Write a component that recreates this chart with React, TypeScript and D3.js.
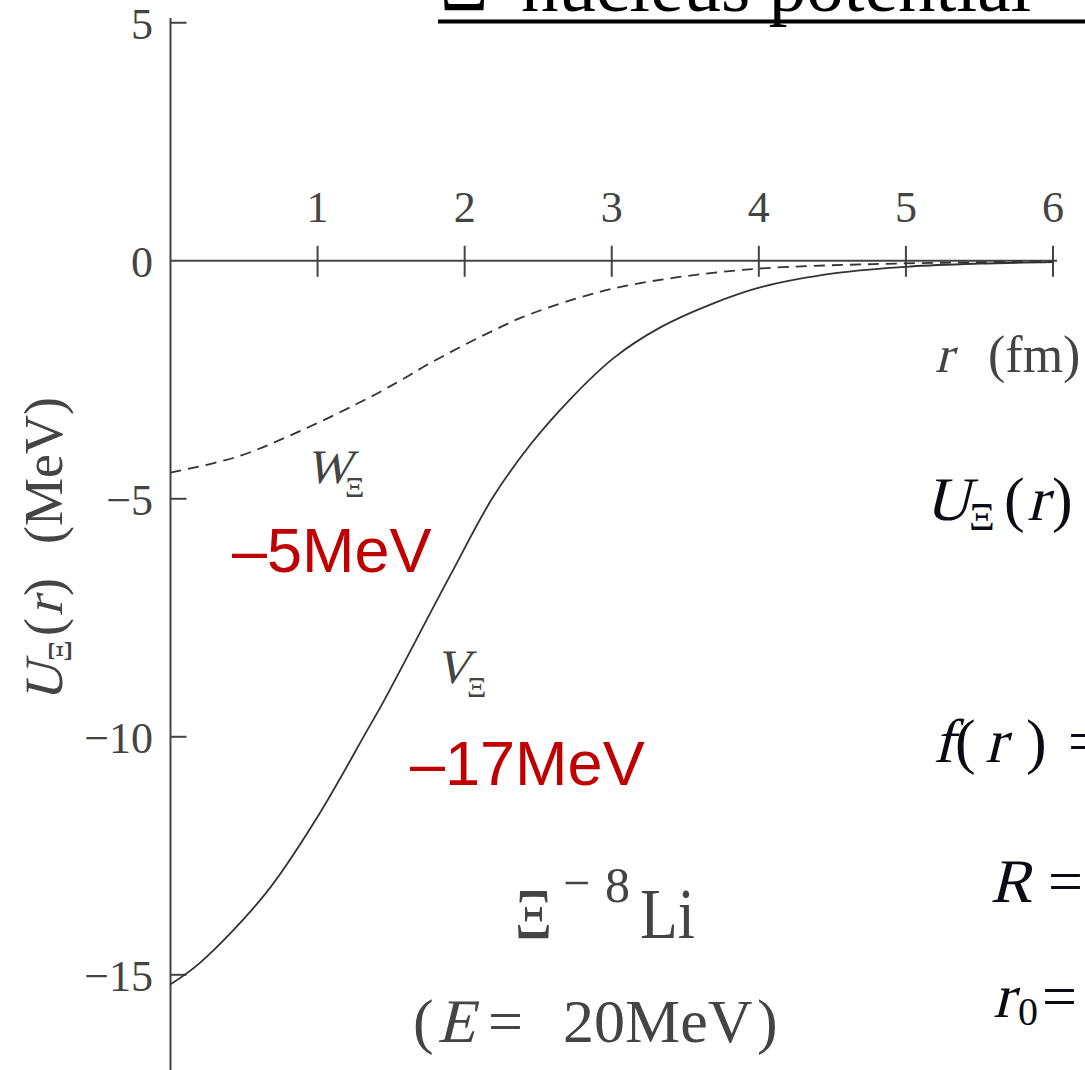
import React from "react";
import * as d3 from "d3";

// Real part V_Ξ(r) of the Ξ⁻–⁸Li optical potential (MeV) versus r (fm)
const rReal = [0, 0.2, 0.65, 1.0, 1.34, 1.45, 1.9, 2.19, 2.45, 2.72, 3.01, 3.33, 3.67, 4.02, 4.52, 5.03, 5.5, 6.0];
const vReal = [-15.2, -14.75, -13.28, -11.68, -9.85, -9.25, -6.62, -4.98, -3.85, -2.9, -2.05, -1.4, -0.92, -0.55, -0.26, -0.12, -0.06, -0.03];

// Imaginary part W_Ξ(r) (MeV)
const rImag = [0, 0.45, 0.9, 1.36, 1.56, 1.76, 2.04, 2.24, 2.38, 2.75, 3.06, 3.51, 4.02, 4.78, 5.5, 6.0];
const wImag = [-4.45, -4.12, -3.55, -2.86, -2.52, -2.16, -1.7, -1.4, -1.2, -0.8, -0.55, -0.32, -0.16, -0.07, -0.03, -0.01];

const xTicks = [1, 2, 3, 4, 5, 6];
const yTicks = [5, 0, -5, -10, -15];

const W = 1085;
const H = 1070;

const serif = "'Liberation Serif', 'Times New Roman', serif";
const sans = "'Liberation Sans', Arial, sans-serif";
const axisColor = "#444";
const curveColor = "#333";
const inkColor = "#0b0b14";
const red = "#C00000";

const fmt = (v: number) => (v < 0 ? "\u2212" + Math.abs(v) : String(v));

// Slanted serif glyphs for math-italic symbols
function Ital(props: { x: number; y: number; size: number; fill: string; children: React.ReactNode }) {
  const { x, y, size, fill, children } = props;
  return (
    <text transform={`translate(${x},${y}) skewX(-14)`} fontFamily={serif} fontSize={size} fill={fill}>
      {children}
    </text>
  );
}

function Txt(props: { x: number; y: number; size: number; fill: string; children: React.ReactNode; anchor?: string }) {
  const { x, y, size, fill, children, anchor } = props;
  return (
    <text x={x} y={y} fontFamily={serif} fontSize={size} fill={fill} textAnchor={anchor || "start"}>
      {children}
    </text>
  );
}

export default function App() {
  const x = d3.scaleLinear().domain([0, 6]).range([170.5, 1053]);
  const y = d3.scaleLinear().domain([-17, 5.1]).range([H, 18]);

  const line = d3
    .line<[number, number]>()
    .x((d) => x(d[0]))
    .y((d) => y(d[1]))
    .curve(d3.curveCatmullRom.alpha(0.5));

  const realPts = rReal.map((r, i) => [r, vReal[i]] as [number, number]);
  const imagPts = rImag.map((r, i) => [r, wImag[i]] as [number, number]);

  const x0 = x(0);
  const y0 = y(0);

  return (
    <div style={{ position: "absolute", left: 0, top: 0, width: W, height: H, overflow: "hidden", background: "#fff" }}>
      <svg width={W} height={H} viewBox={`0 0 ${W} ${H}`} style={{ display: "block" }}>
        <rect width={W} height={H} fill="#fff" />

        {/* slide title */}
        <text x={440} y={11} fontFamily={serif} fontSize={75} fill="#000">Ξ</text>
        <text x={521} y={11} fontFamily={serif} fontSize={75} fill="#000">nucleus potential</text>
        <rect x={438} y={19.5} width={W - 438} height={4} fill="#000" />

        {/* axes */}
        <line x1={x0} x2={x0} y1={y(5.1)} y2={y(-17)} stroke={axisColor} strokeWidth={2} />
        <line x1={x0} x2={x(6) + 4} y1={y0} y2={y0} stroke={axisColor} strokeWidth={2} />

        {xTicks.map((t) => (
          <g key={"xt" + t}>
            <line x1={x(t)} x2={x(t)} y1={y0 - 15} y2={y0 + 16} stroke={axisColor} strokeWidth={2} />
            <Txt x={x(t)} y={y0 - 39} size={44} fill={axisColor} anchor="middle">
              {t}
            </Txt>
          </g>
        ))}

        {yTicks.map((t) => (
          <g key={"yt" + t}>
            {t !== 0 && <line x1={x0} x2={x0 + 16} y1={y(t)} y2={y(t)} stroke={axisColor} strokeWidth={2} />}
            <Txt x={153} y={y(t) + 16.5} size={44} fill={axisColor} anchor="end">
              {fmt(t)}
            </Txt>
          </g>
        ))}

        {/* y axis title, reading upward */}
        <g transform="translate(62,702) rotate(-90)">
          <Ital x={0} y={0} size={54} fill={axisColor}>U</Ital>
          <Txt x={40} y={9} size={34} fill={axisColor}>Ξ</Txt>
          <Txt x={66} y={0} size={54} fill={axisColor}>(</Txt>
          <Ital x={86} y={0} size={54} fill={axisColor}>r</Ital>
          <Txt x={106} y={0} size={54} fill={axisColor}>)</Txt>
          <Txt x={158} y={0} size={54} fill={axisColor}>(MeV)</Txt>
        </g>

        {/* x axis title */}
        <Ital x={935} y={372} size={52} fill={axisColor}>r</Ital>
        <Txt x={988} y={372} size={52} fill={axisColor}>(fm)</Txt>

        {/* potential curves */}
        <path d={line(imagPts) || ""} fill="none" stroke={curveColor} strokeWidth={1.8} strokeDasharray="11,7" />
        <path d={line(realPts) || ""} fill="none" stroke={curveColor} strokeWidth={1.8} />

        {/* curve labels */}
        <Ital x={306} y={483} size={48} fill={axisColor}>W</Ital>
        <Txt x={345} y={497} size={30} fill={axisColor}>Ξ</Txt>
        <Ital x={435} y={683} size={48} fill={axisColor}>V</Ital>
        <Txt x={467} y={697} size={30} fill={axisColor}>Ξ</Txt>

        <text x={232} y={572} fontFamily={sans} fontSize={63} fill={red}>–5MeV</text>
        <text x={410} y={785} fontFamily={sans} fontSize={63} fill={red}>–17MeV</text>

        {/* system label */}
        <text x={515} y={938} fontFamily={serif} fontSize={72} fill={axisColor} textLength={37} lengthAdjust="spacingAndGlyphs">Ξ</text>
        <Txt x={563} y={899} size={48} fill={axisColor}>−</Txt>
        <Txt x={605} y={902} size={50} fill={axisColor}>8</Txt>
        <text x={640} y={938} fontFamily={serif} fontSize={72} fill={axisColor} textLength={55} lengthAdjust="spacingAndGlyphs">Li</text>

        <Txt x={413} y={1042} size={62} fill={axisColor}>(</Txt>
        <Ital x={437} y={1042} size={62} fill={axisColor}>E</Ital>
        <Txt x={488} y={1042} size={62} fill={axisColor}>=</Txt>
        <Txt x={563} y={1042} size={62} fill={axisColor}>20MeV</Txt>
        <Txt x={757} y={1042} size={62} fill={axisColor}>)</Txt>

        {/* formulas on the right */}
        <Ital x={925} y={520} size={62} fill={inkColor}>U</Ital>
        <Txt x={969} y={530} size={40} fill={inkColor}>Ξ</Txt>
        <Txt x={1004} y={520} size={62} fill={inkColor}>(</Txt>
        <Ital x={1027} y={520} size={62} fill={inkColor}>r</Ital>
        <Txt x={1052} y={520} size={62} fill={inkColor}>)</Txt>

        <Ital x={933} y={762} size={62} fill={inkColor}>f</Ital>
        <Txt x={955} y={762} size={62} fill={inkColor}>(</Txt>
        <Ital x={985} y={762} size={62} fill={inkColor}>r</Ital>
        <Txt x={1026} y={762} size={62} fill={inkColor}>)</Txt>
        <Txt x={1068} y={762} size={62} fill={inkColor}>=</Txt>

        <Ital x={990} y={902} size={62} fill={inkColor}>R</Ital>
        <Txt x={1048} y={902} size={62} fill={inkColor}>=</Txt>

        <Ital x={993} y={1017} size={62} fill={inkColor}>r</Ital>
        <Txt x={1018} y={1025} size={40} fill={inkColor}>0</Txt>
        <Txt x={1042} y={1017} size={62} fill={inkColor}>=</Txt>
      </svg>
    </div>
  );
}
